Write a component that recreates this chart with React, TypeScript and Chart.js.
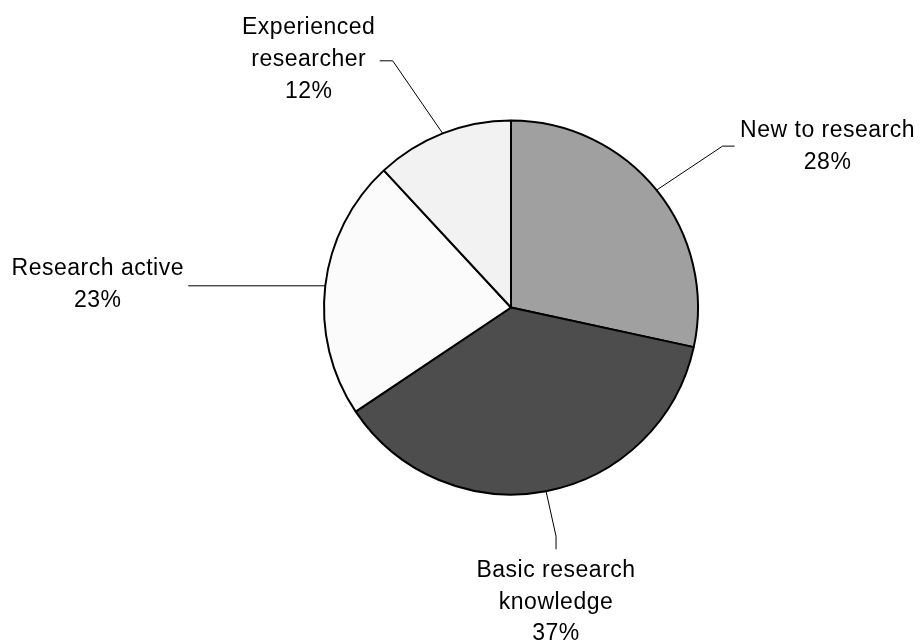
import React, { useEffect, useRef } from "react";
import { Chart, registerables } from "chart.js";

Chart.register(...registerables);

const categoryLines: string[][] = [
  ["New to research"],
  ["Basic research", "knowledge"],
  ["Research active"],
  ["Experienced", "researcher"],
];
const categories: string[] = categoryLines.map((l) => l.join(" "));
const values: number[] = [28.4, 37.2, 22.5, 11.9];
const sliceColors: string[] = ["#a0a0a0", "#4d4d4d", "#fbfbfb", "#f2f2f2"];

// label layout: offsets relative to the slice's outer-edge midpoint
const leaderElbow: number[][] = [
  [66, -44],
  [10, 45],
  [-137, 0],
  [-50, -72.6],
];
const leaderTail: number[][] = [
  [12, 0],
  [0, 13],
  [0, 0],
  [-13, 0],
];
const textAnchor: number[][] = [
  [171, -53],
  [10, 85.7],
  [-227.5, -10.5],
  [-134, -99.3],
];
const LINE_GAP = 31.7;

const labelPlugin = {
  id: "pieLabels",
  afterDatasetsDraw(chart: any) {
    const ctx = chart.ctx;
    const meta = chart.getDatasetMeta(0);
    const data = chart.data.datasets[0].data as number[];
    const total = data.reduce((a, b) => a + b, 0);
    ctx.save();
    meta.data.forEach((arc: any, i: number) => {
      const { x, y, startAngle, endAngle, outerRadius } = arc.getProps(
        ["x", "y", "startAngle", "endAngle", "outerRadius"],
        true
      );
      const mid = (startAngle + endAngle) / 2;
      const ex = x + Math.cos(mid) * outerRadius;
      const ey = y + Math.sin(mid) * outerRadius;
      const bx = ex + leaderElbow[i][0];
      const by = ey + leaderElbow[i][1];
      const tx = bx + leaderTail[i][0];
      const ty = by + leaderTail[i][1];
      ctx.strokeStyle = "#000000";
      ctx.lineWidth = 1;
      ctx.beginPath();
      ctx.moveTo(ex, ey);
      ctx.lineTo(bx, by);
      ctx.lineTo(tx, ty);
      ctx.stroke();

      const pct = Math.round((data[i] / total) * 100) + "%";
      const lines = [...categoryLines[i], pct];
      ctx.fillStyle = "#000000";
      ctx.font = '23px "Liberation Sans", Arial, sans-serif';
      (ctx as any).letterSpacing = "0.5px";
      ctx.textAlign = "center";
      ctx.textBaseline = "alphabetic";
      const cx = ex + textAnchor[i][0];
      const cy = ey + textAnchor[i][1];
      lines.forEach((line, k) => {
        ctx.fillText(line, cx, cy + k * LINE_GAP);
      });
    });
    ctx.restore();
  },
};

export default function App() {
  const canvasRef = useRef<HTMLCanvasElement | null>(null);

  useEffect(() => {
    document.body.style.margin = "0";
    const canvas = canvasRef.current;
    if (!canvas) return;
    const chart = new Chart(canvas, {
      type: "pie",
      data: {
        labels: categories,
        datasets: [
          {
            data: values,
            backgroundColor: sliceColors,
            borderColor: "#000000",
            borderWidth: 2,
          },
        ],
      },
      options: {
        responsive: false,
        animation: false,
        layout: {
          padding: { left: 323, right: 221, top: 119.5, bottom: 148.5 },
        },
        plugins: {
          legend: { display: false },
          tooltip: { enabled: false },
          title: { display: false },
        },
      },
      plugins: [labelPlugin],
    });
    return () => chart.destroy();
  }, []);

  return (
    <div style={{ width: 920, height: 644, background: "#ffffff" }}>
      <canvas ref={canvasRef} width={920} height={644} style={{ display: "block" }} />
    </div>
  );
}
